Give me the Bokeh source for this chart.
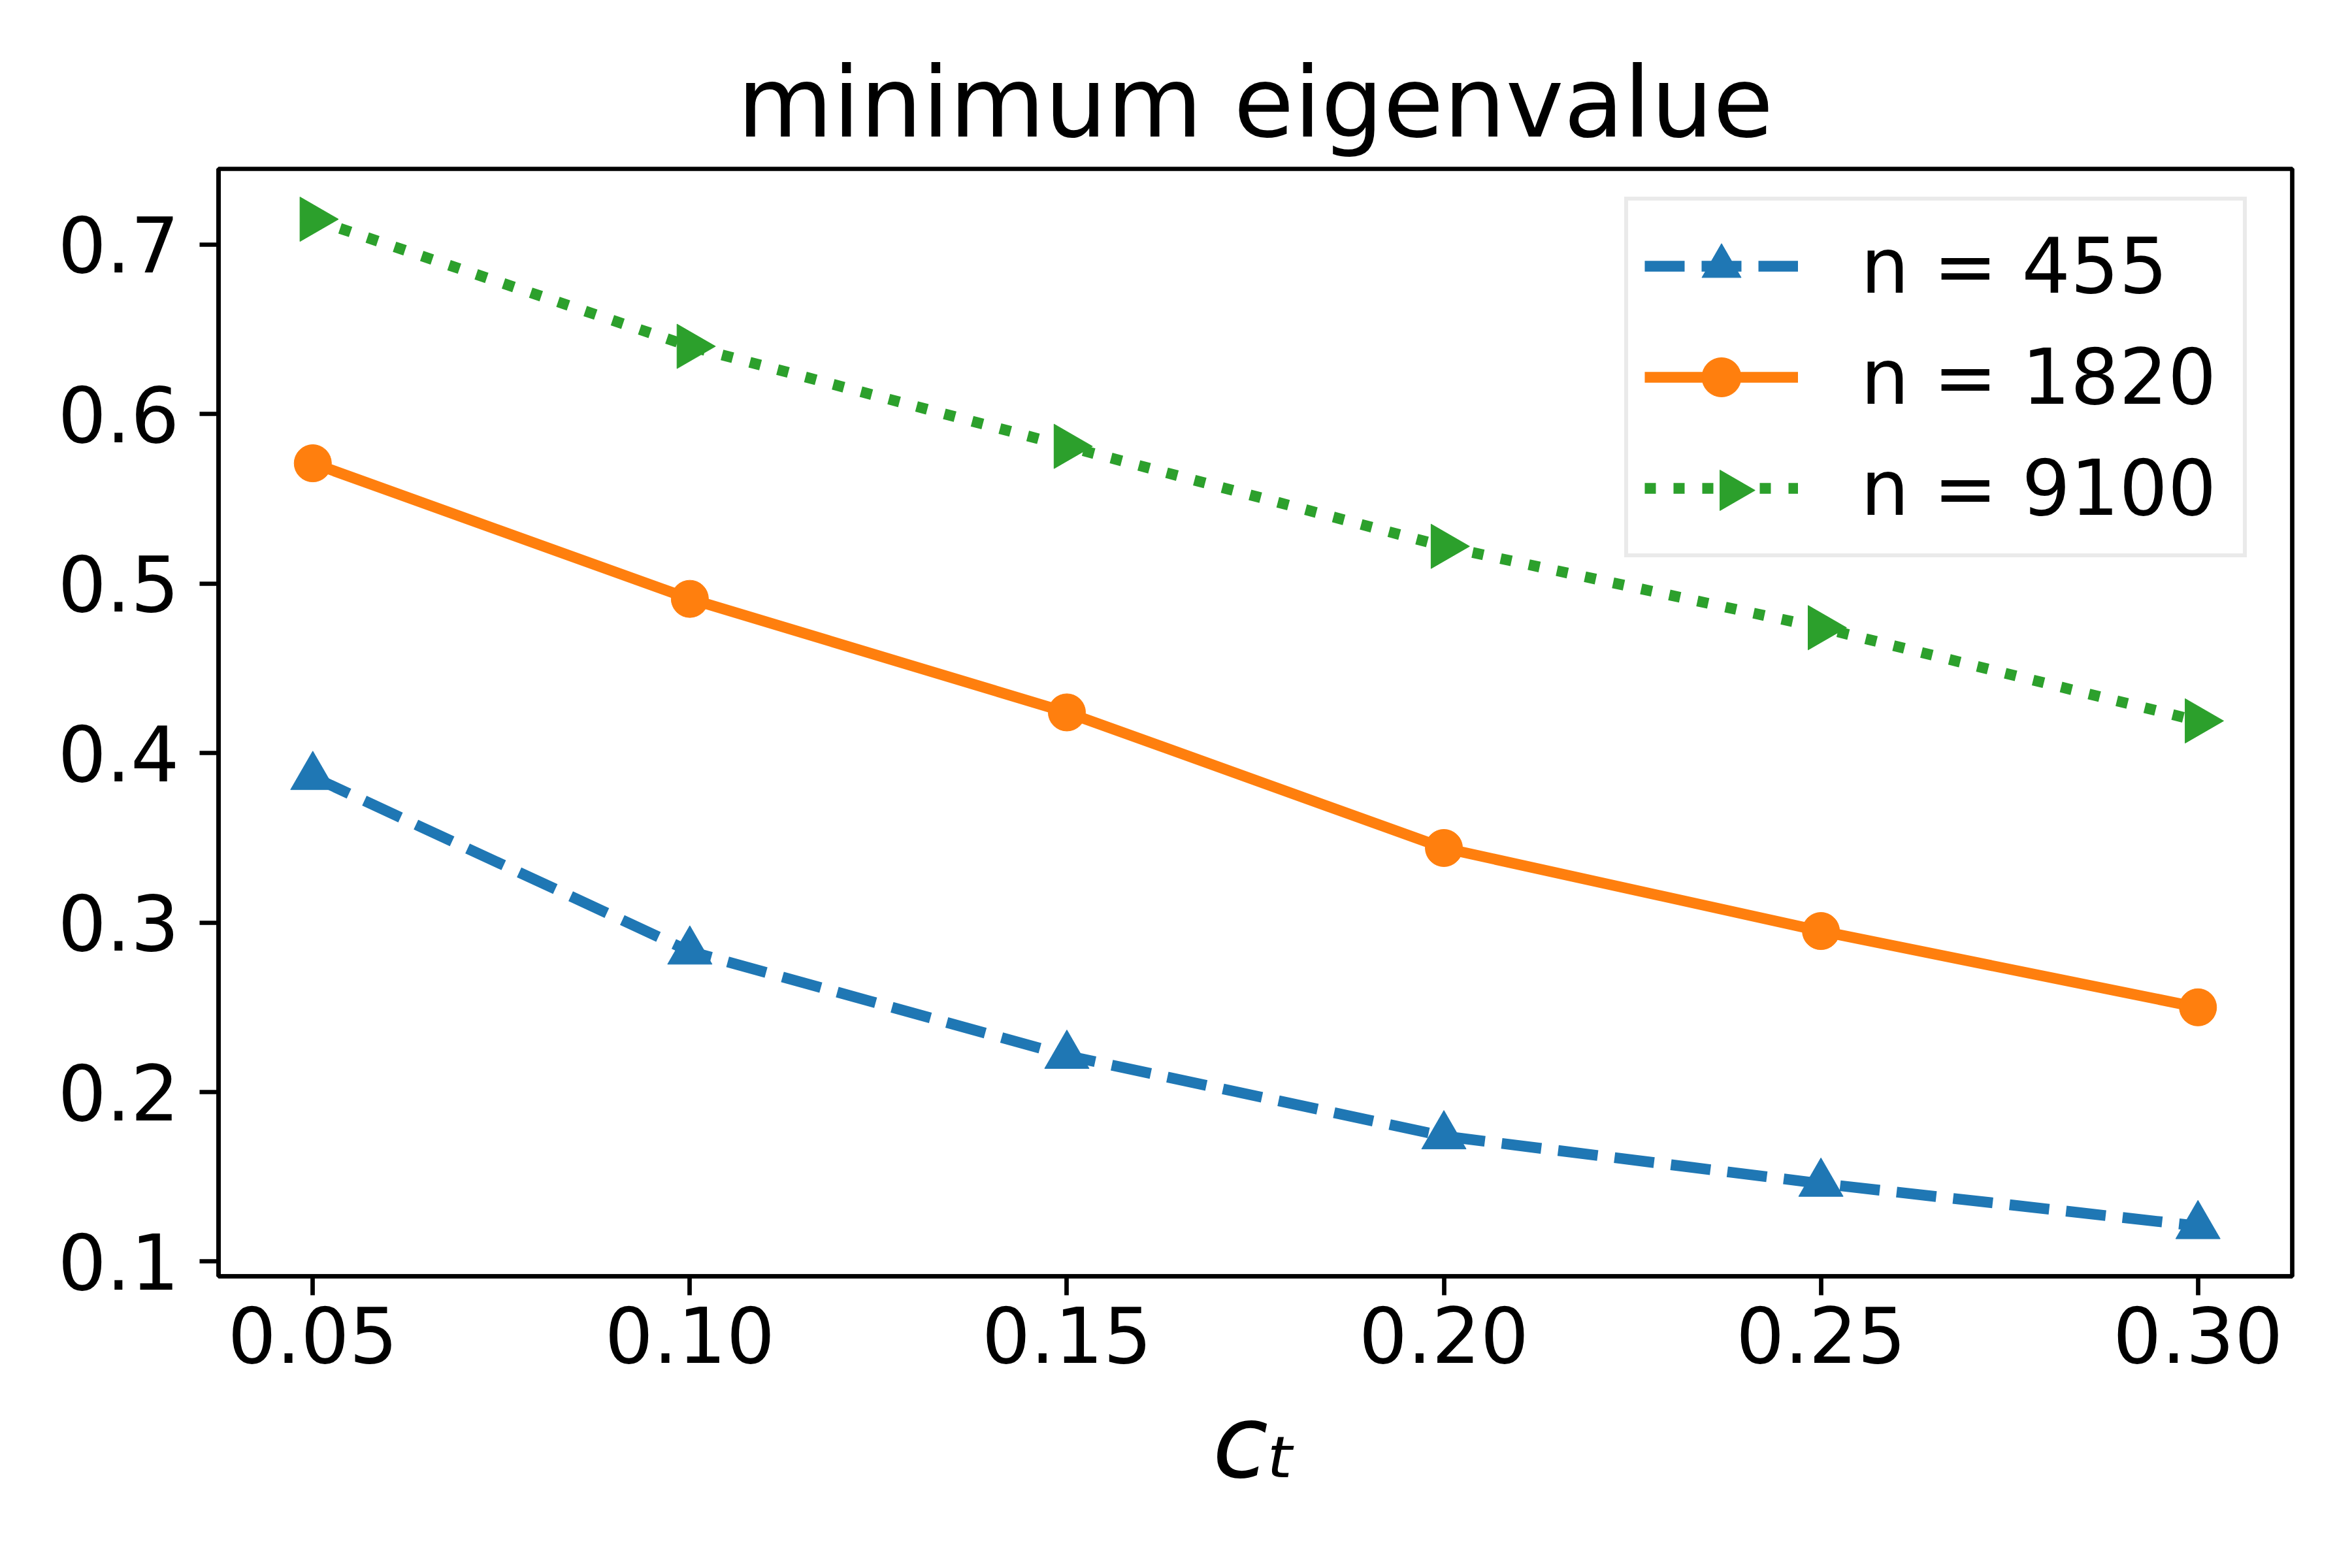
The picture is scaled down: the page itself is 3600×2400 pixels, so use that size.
import math
from bokeh.plotting import figure
from bokeh.models import (Range1d, FixedTicker, NumeralTickFormatter, Legend,
                          LegendItem)
from bokeh.embed import file_html
from bokeh.resources import INLINE

# ---- data ----
ct = [0.05, 0.10, 0.15, 0.20, 0.25, 0.30]
labels = ["n = 455", "n = 1820", "n = 9100"]
eig_455 = [0.386, 0.283, 0.2215, 0.174, 0.146, 0.121]
eig_1820 = [0.571, 0.491, 0.424, 0.344, 0.295, 0.250]
eig_9100 = [0.715, 0.640, 0.581, 0.522, 0.474, 0.419]
x_ticks = [0.05, 0.10, 0.15, 0.20, 0.25, 0.30]
y_ticks = [0.1, 0.2, 0.3, 0.4, 0.5, 0.6, 0.7]
title_text = "minimum eigenvalue"
xlabel_text = "c\u209c"   # c with subscript t

FONT = "DejaVu Sans"
BLUE, ORANGE, GREEN = "#1f77b4", "#ff7f0e", "#2ca02c"
LW = 16.5
SPINE = 6.7

W, H = 3584, 2384
BL, BR, BT, BB = 334, 76, 258, 431
FW, FH = W - BL - BR, H - BT - BB

# matplotlib-like 5% margins
xmin, xmax = min(ct), max(ct)
xpad = 0.05 * (xmax - xmin)
all_y = eig_455 + eig_1820 + eig_9100
ymin, ymax = min(all_y), max(all_y)
ypad = 0.05 * (ymax - ymin)
x0, x1 = xmin - xpad, xmax + xpad
y0, y1 = ymin - ypad, ymax + ypad

p = figure(width=W, height=H, output_backend="svg", toolbar_location=None,
           x_range=Range1d(x0, x1), y_range=Range1d(y0, y1),
           min_border_left=BL, min_border_right=BR,
           min_border_top=BT, min_border_bottom=BB,
           background_fill_color="white", border_fill_color="white",
           outline_line_color="black", outline_line_width=SPINE,
           outline_line_alpha=1.0)

p.title.text = title_text
p.title.align = "center"
p.title.text_font = FONT
p.title.text_font_size = "150px"
p.title.text_font_style = "normal"
p.title.text_color = "black"
p.title.standoff = 30

p.grid.visible = False

for ax in (p.xaxis[0], p.yaxis[0]):
    ax.axis_line_color = "black"
    ax.axis_line_width = SPINE
    ax.major_tick_line_color = "black"
    ax.major_tick_line_width = SPINE
    ax.major_tick_out = 29
    ax.major_tick_in = 0
    ax.minor_tick_line_color = None
    ax.major_label_text_font = FONT
    ax.major_label_text_font_size = "117px"
    ax.major_label_text_color = "black"

p.xaxis.ticker = FixedTicker(ticks=x_ticks)
p.xaxis.formatter = NumeralTickFormatter(format="0.00")
p.xaxis.major_label_standoff = 17
p.xaxis.axis_label = xlabel_text
p.xaxis.axis_label_text_font = FONT
p.xaxis.axis_label_text_font_style = "italic"
p.xaxis.axis_label_text_font_size = "155px"
p.xaxis.axis_label_text_color = "black"
p.xaxis.axis_label_standoff = 28
p.yaxis.ticker = FixedTicker(ticks=y_ticks)
p.yaxis.formatter = NumeralTickFormatter(format="0.0")
p.yaxis.major_label_standoff = 31

# series
l1 = p.line(ct, eig_455, line_color=BLUE, line_width=LW, line_dash="61 26",
            line_join="round")
s1 = p.scatter(ct, eig_455, marker="triangle", size=68, color=BLUE)
l2 = p.line(ct, eig_1820, line_color=ORANGE, line_width=LW, line_join="round")
s2 = p.scatter(ct, eig_1820, marker="circle", size=57, color=ORANGE)
l3 = p.line(ct, eig_9100, line_color=GREEN, line_width=LW, line_dash="17 27",
            line_join="round")
s3 = p.scatter(ct, eig_9100, marker="triangle", size=68, angle=-math.pi / 2,
               color=GREEN)

# right-pointing marker of the third legend entry (Bokeh never rotates legend
# glyphs), placed at the legend's glyph centre
leg_gx = x0 + (2650 - BL) * (x1 - x0) / FW
leg_gy = y1 - (750 - BT) * (y1 - y0) / FH
p.scatter([leg_gx], [leg_gy], marker="triangle", size=62, angle=-math.pi / 2,
          color=GREEN)

legend = Legend(items=[LegendItem(label=labels[0], renderers=[l1, s1]),
                       LegendItem(label=labels[1], renderers=[l2, s2]),
                       LegendItem(label=labels[2], renderers=[l3])],
                location=(2152, 1100), margin=0, padding=25, spacing=20,
                glyph_width=235, glyph_height=150, label_height=150,
                label_width=560, label_standoff=96,
                label_text_font=FONT, label_text_font_size="117px",
                label_text_color="black",
                border_line_color="#d6d6d6", border_line_width=SPINE,
                background_fill_color="white", background_fill_alpha=0.0)
p.add_layout(legend)

open("out.html", "w").write(file_html(p, INLINE))
